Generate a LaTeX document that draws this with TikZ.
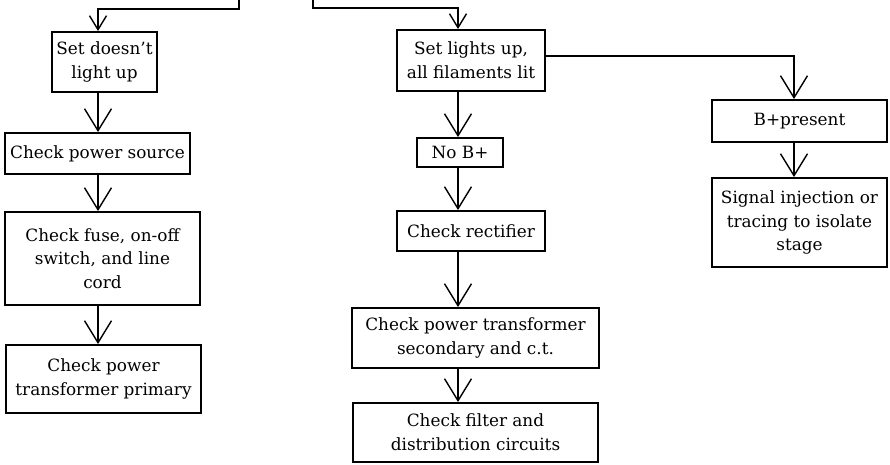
\documentclass[tikz,border=0pt]{standalone}
\usepackage{fontspec}
\setmainfont{DejaVu Serif}
\usetikzlibrary{arrows.meta}

\begin{document}
\begin{tikzpicture}[x=0.02cm, y=-0.02cm,
    box/.style={draw, line width=1.1pt, align=center, inner sep=0pt,
        font=\fontsize{9.6}{13.5}\selectfont},
    flow/.style={line width=0.8pt, -{Straight Barb[length=4.4mm,width=5.4mm]}},
    smallflow/.style={line width=0.8pt, -{Straight Barb[length=2.8mm,width=3.4mm]}}]

    \useasboundingbox (0,0) rectangle (890,464);

    % Column lines for the arrows
    \coordinate (lc) at (98,0);
    \coordinate (mc) at (458,0);
    \coordinate (rc) at (794,0);

    % Left column: set doesn't light up
    \node[box, minimum width=2.10cm, minimum height=1.20cm] (doesnt) at (104.5,62) {Set doesn't\\light up};
    \node[box, minimum width=3.70cm, minimum height=0.82cm] (source) at (97.5,153.5) {Check power source};
    \node[box, minimum width=3.90cm, minimum height=1.86cm] (fuse) at (102.5,258.5) {Check fuse, on-off\\switch, and line\\cord};
    \node[box, minimum width=3.90cm, minimum height=1.36cm] (primary) at (103.5,379) {Check power\\transformer primary};

    % Middle column: set lights up
    \node[box, minimum width=2.96cm, minimum height=1.22cm] (lit) at (471,60.5) {Set lights up,\\all filaments lit};
    \node[box, minimum width=1.72cm, minimum height=0.58cm] (nob) at (460,152.5) {No B+};
    \node[box, minimum width=2.96cm, minimum height=0.80cm] (rect) at (471,231) {Check rectifier};
    \node[box, minimum width=4.94cm, minimum height=1.20cm] (secondary) at (475.5,338) {Check power transformer\\secondary and c.t.};
    \node[box, minimum width=4.90cm, minimum height=1.18cm] (filter) at (475.5,432.5) {Check filter and\\distribution circuits};

    % Right column: B+ present
    \node[box, minimum width=3.50cm, minimum height=0.84cm] (bplus) at (799.5,121) {B+present};
    \node[box, minimum width=3.50cm, minimum height=1.78cm] (signal) at (799.5,222.5) {Signal injection or\\tracing to isolate\\stage};

    % Lines coming in from above
    \coordinate (topL) at (239,0);
    \coordinate (topR) at (313,0);
    \draw[smallflow] (topL) -- ++(0,9) -| (doesnt.north -| lc);
    \draw[smallflow] (topR) -- ++(0,8) -| (lit.north -| mc);

    % Arrows down the columns
    \foreach \a/\b in {doesnt/source, source/fuse, fuse/primary} {
        \draw[flow] (\a.south -| lc) -- (\b.north -| lc);
    }
    \foreach \a/\b in {lit/nob, nob/rect, rect/secondary, secondary/filter} {
        \draw[flow] (\a.south -| mc) -- (\b.north -| mc);
    }
    \draw[flow] (bplus.south -| rc) -- (signal.north -| rc);

    % Branch to the right
    \draw[flow] ([yshift=0.09cm]lit.east) -| (bplus.north -| rc);

\end{tikzpicture}
\end{document}
